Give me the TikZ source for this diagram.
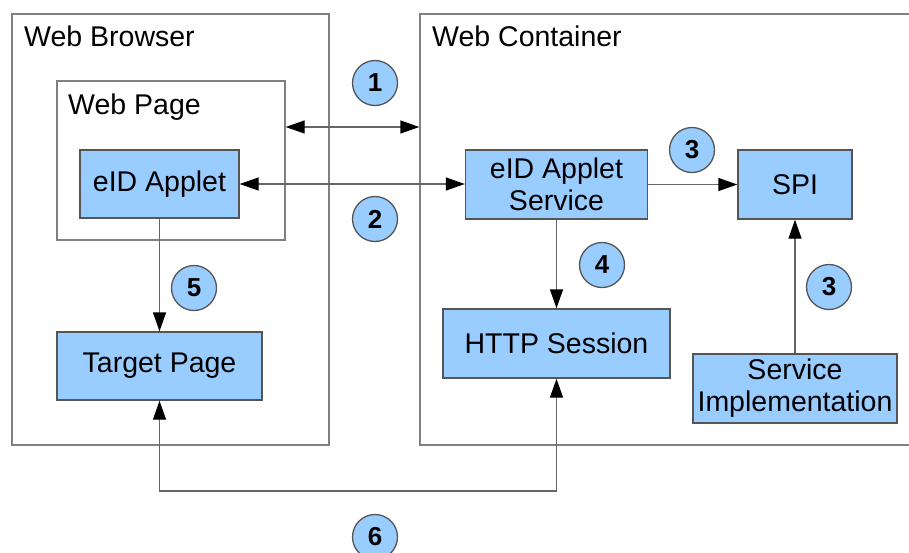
\documentclass[tikz,border=0pt]{standalone}
\usepackage{fontspec}
\setmainfont{Liberation Sans}
\usetikzlibrary{arrows.meta}
\definecolor{boxblue}{HTML}{99CCFF}
\definecolor{boxline}{HTML}{555555}
\definecolor{frameline}{HTML}{808080}
\definecolor{conline}{HTML}{666666}
\tikzset{
  frame/.style={draw=frameline, line width=1.4pt, fill=none},
  blue box/.style={draw=boxline, fill=boxblue, line width=1.4pt, align=center, inner sep=0pt,
     font=\fontsize{28.5}{32}\selectfont},
  frame label/.style={anchor=base west, inner sep=0pt, font=\fontsize{28.5}{32}\selectfont},
  num/.style={circle, draw=boxline, fill=boxblue, line width=1.3pt, minimum size=45pt, inner sep=0pt,
     font=\fontsize{26}{28}\selectfont\bfseries},
  conn/.style={draw=conline, line width=1.4pt},
  tip/.style={-{Triangle[length=19pt,width=13pt,fill=black,color=black]}},
  tips/.style={{Triangle[length=19pt,width=13pt,fill=black,color=black]}-{Triangle[length=19pt,width=13pt,fill=black,color=black]}},
}
\begin{document}
\begin{tikzpicture}[x=1pt,y=-1pt]
\useasboundingbox (0,0) rectangle (909,552);
% frames
\node[frame, minimum width=317pt, minimum height=431pt, inner sep=0pt] (browser) at (170.5,229.5) {};
\node[frame, minimum width=228pt, minimum height=159pt, inner sep=0pt] (webpage) at (171,160.5) {};
\node[frame, minimum width=500pt, minimum height=431pt, inner sep=0pt] (container) at (670,229.5) {};
\node[frame label] (lbrowser) at (24,46) {Web Browser};
\node[frame label] (lwebpage) at (68,114) {Web Page};
\node[frame label] (lcontainer) at (432,46) {Web Container};
% blue boxes
\node[blue box, minimum width=159pt, minimum height=68pt] (applet) at (159.5,184) {eID Applet};
\node[blue box, minimum width=205pt, minimum height=68pt] (target) at (159.5,366) {\raisebox{-3pt}{Target Page}};
\node[blue box, minimum width=182pt, minimum height=69pt] (service) at (556.5,184.5) {eID Applet\\Service};
\node[blue box, minimum width=114pt, minimum height=69pt] (spi) at (795,184.5) {SPI};
\node[blue box, minimum width=227pt, minimum height=69pt] (http) at (556.5,343.5) {HTTP Session};
\node[blue box, minimum width=204pt, minimum height=69pt] (impl) at (795,388.5) {Service\\Implementation};
% connectors
\coordinate (a1) at (352,127);
\coordinate (bottom) at (350,491);
\draw[conn, tips] (a1 -| webpage.east) -- (a1 -| container.west);
\draw[conn, tips] (applet.east) -- (applet.east -| service.west);
\draw[conn, tip] (service.east) -- (service.east -| spi.west);
\draw[conn, tip] (service.south) -- (http.north);
\draw[conn, tip] (applet.south) -- (target.north);
\draw[conn, tip] (impl.north) -- (spi.south);
\draw[conn, tips] (target.south) -- (target.south |- bottom) -- (http.south |- bottom) -- (http.south);
% numbers
\node[num] (n1) at (375,83) {1};
\node[num] (n2) at (375,219) {2};
\node[num] (n3a) at (692,150) {3};
\node[num] (n4) at (602,265) {4};
\node[num] (n3b) at (829,287) {3};
\node[num] (n5) at (194,288) {5};
\node[num] (n6) at (375,537) {6};
\end{tikzpicture}
\end{document}
